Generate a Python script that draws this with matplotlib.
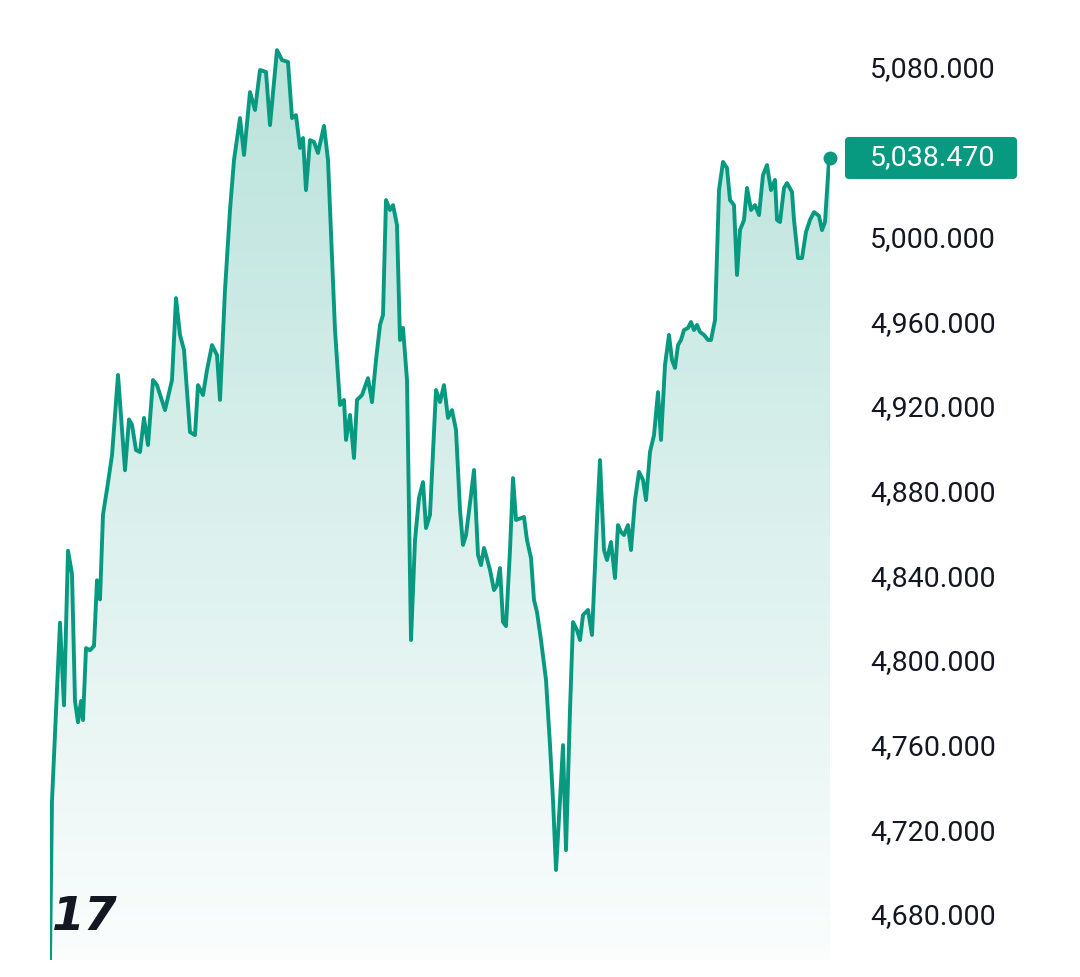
import matplotlib
matplotlib.use("Agg")
import matplotlib.pyplot as plt
from matplotlib.patches import Polygon, FancyBboxPatch
import numpy as np

# sample times (relative units) and prices
times = [50, 52, 60, 64, 68, 72, 75, 78, 81, 83, 86, 90, 94, 97, 100, 103, 107, 112, 118, 125, 129, 132,
         136, 140, 144, 148, 153, 157, 165, 172, 176, 180, 184, 190, 195, 198, 203, 207, 212, 217, 220,
         225, 230, 234, 240, 244, 250, 255, 260, 266, 270, 277, 282, 288, 292, 296, 300, 303, 306, 310,
         314, 318, 324, 328, 335, 340, 344, 346, 350, 354, 357, 362, 368, 372, 376, 380, 383, 386, 390,
         393, 397, 400, 403, 407, 411, 415, 419, 423, 426, 430, 436, 440, 444, 448, 452, 456, 460, 463,
         466, 471, 474, 478, 481, 484, 486, 490, 494, 497, 500, 503, 506, 510, 513, 516, 521, 524, 527,
         531, 534, 537, 541, 546, 550, 553, 556, 560, 563, 566, 570, 573, 577, 580, 583, 588, 592, 597,
         600, 604, 607, 611, 615, 618, 621, 624, 628, 631, 635, 639, 643, 646, 650, 654, 658, 661, 665,
         669, 672, 675, 678, 681, 684, 688, 691, 694, 697, 700, 704, 708, 711, 715, 719, 723, 727, 730,
         734, 737, 740, 744, 747, 751, 755, 759, 763, 767, 771, 775, 777, 780, 784, 787, 792, 794, 798,
         802, 806, 810, 814, 819, 822, 825, 829, 830]
prices = [4659.7, 4735, 4819, 4780, 4853, 4842, 4782, 4772, 4782, 4773, 4807, 4806, 4808, 4839, 4830,
          4870, 4882, 4898, 4936, 4891, 4915, 4912.5, 4900.5, 4899.6, 4915.7, 4902.9, 4933.6, 4931.2,
          4919.4, 4933.6, 4972.3, 4954.9, 4947.8, 4909, 4907.6, 4931.2, 4926.5, 4938.3, 4950.1, 4945.4,
          4924.2, 4976.1, 5013.9, 5037.5, 5057.3, 5039.9, 5069.6, 5061.1, 5080, 5079.1, 5054, 5089.4,
          5084.7, 5083.8, 5057.3, 5058.7, 5043.2, 5047.9, 5023.3, 5046.9, 5046, 5040.8, 5053.6, 5037.5,
          4957.2, 4921.8, 4924.2, 4905.3, 4917.1, 4896.8, 4924.2, 4926.5, 4934.5, 4923.2, 4943, 4959.6,
          4964.3, 5018.6, 5013.9, 5016.2, 5006.8, 4952.5, 4958.2, 4933.6, 4810.8, 4858, 4877.9, 4885.4,
          4863.7, 4870, 4928.9, 4923.2, 4931.2, 4915.7, 4919.4, 4910, 4872.2, 4855.7, 4860.4, 4879.3,
          4891.1, 4851, 4846.2, 4854.3, 4851, 4843.9, 4834.4, 4836.8, 4844.8, 4819.3, 4817.4, 4853.3,
          4887.3, 4867.5, 4868.4, 4868.9, 4858, 4849.5, 4829.7, 4824, 4810.8, 4792, 4761.2, 4735.3,
          4702.2, 4735.3, 4761.2, 4711.6, 4777.8, 4819.3, 4815.5, 4810.8, 4822.6, 4825, 4813.2, 4867.5,
          4895.8, 4853.3, 4848.6, 4857.1, 4840.1, 4865.1, 4861.8, 4860.4, 4865.1, 4853.3, 4876.9, 4890.2,
          4886.4, 4876.9, 4899.6, 4907.6, 4927.9, 4905.3, 4940.7, 4954.9, 4943, 4939.3, 4950.1, 4952.5,
          4957.2, 4958.2, 4961, 4957.2, 4959.6, 4956.3, 4954.9, 4952.5, 4952.5, 4961.9, 5023.3, 5036.6,
          5033.7, 5018.6, 5016.2, 4983.2, 5004.4, 5009.2, 5024.3, 5013.9, 5016.2, 5011.5, 5030.4, 5035.1,
          5023.3, 5028.1, 5009.2, 5008.2, 5024.3, 5026.6, 5022.4, 5009.2, 4991.2, 4991.2, 5003.5, 5009.2,
          5012.9, 5011.1, 5004.4, 5008.2, 5037.5, 5038.47]
yticks = [4680, 4720, 4760, 4800, 4840, 4880, 4920, 4960, 5000, 5040, 5080]
last_label = "5,038.470"

green = "#089981"
x = np.array(times, dtype=float)
ymin, ymax = 4659.7, 5098.9

fig = plt.figure(figsize=(10.8, 9.77), dpi=100)
ax = fig.add_axes([50 / 1080, 1 - 960 / 977, 780 / 1080, 930 / 977])
ax.set_xlim(x[0], x[-1])
ax.set_ylim(ymin, ymax)

# gradient fill under the line
grad = np.linspace(0.28, 0.02, 256).reshape(-1, 1)
cmap = matplotlib.colors.LinearSegmentedColormap.from_list("g", ["white", green])
im = ax.imshow(grad, aspect="auto", cmap=cmap, vmin=0, vmax=1,
               extent=[x[0], x[-1], ymin, max(prices)], origin="upper", zorder=1)
poly = Polygon(np.column_stack([np.r_[x, x[-1], x[0]], np.r_[prices, ymin, ymin]]),
               closed=True, transform=ax.transData, facecolor="none", edgecolor="none")
ax.add_patch(poly)
im.set_clip_path(poly)

ax.plot(x, prices, color=green, lw=2.8, zorder=3, solid_joinstyle="round")
ax.plot(x[-1], prices[-1], "o", color=green, ms=9, zorder=4, clip_on=False)

for s in ax.spines.values():
    s.set_visible(False)
ax.set_xticks([])
ax.set_yticks([])

fs = 20.5
tx = 870 / 1080
blend = matplotlib.transforms.blended_transform_factory(fig.transFigure, ax.transData)
for t in yticks:
    if t == 5040:
        continue
    ax.text(tx, t, f"{t:,.3f}", transform=blend,
            fontsize=fs, color="#131722", va="center", ha="left", family="Roboto")

# last price label
ly = ax.transData.transform((0, prices[-1]))[1] / fig.bbox.height
box = FancyBboxPatch((845 / 1080, ly - 21 / 977), 172 / 1080, 42 / 977, transform=fig.transFigure,
                     boxstyle="round,pad=0,rounding_size=0.004", fc=green, ec="none")
fig.patches.append(box)
fig.text(tx, ly, last_label, fontsize=fs, color="white", va="center", ha="left", family="Roboto")

fig.text(52 / 1080, 1 - 918 / 977, "17", fontsize=34, fontweight="black", color="#131722",
         va="center", ha="left", family="DejaVu Sans", style="italic")

fig.savefig("out.png", dpi=100, facecolor="white")
